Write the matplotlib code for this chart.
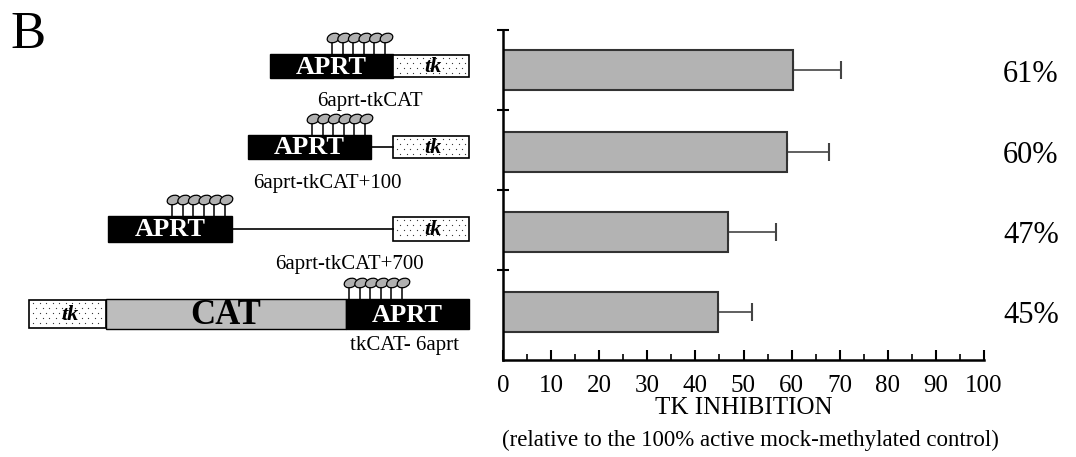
import numpy as np
import matplotlib.pyplot as plt
from matplotlib.patches import Rectangle, Ellipse

plt.rcParams['font.family'] = ['Liberation Serif', 'DejaVu Serif']

# values
constructs = ['6aprt-tkCAT', '6aprt-tkCAT+100', '6aprt-tkCAT+700', 'tkCAT- 6aprt']
inhibition = [60.3, 59.0, 46.7, 44.7]
err_upper = [10.0, 8.8, 10.0, 7.1]
pct_labels = ['61%', '60%', '47%', '45%']
xticks = list(range(0, 101, 10))

# layout of the schematic constructs (pixel coords)
segments = [
    [('aprt', 270, 393), ('tk', 393, 469)],
    [('aprt', 248, 371), ('line', 371, 393), ('tk', 393, 469)],
    [('aprt', 108, 232), ('line', 232, 393), ('tk', 393, 469)],
    [('tk', 29, 106), ('cat', 106, 346), ('aprt', 346, 469)],
]
box_rows = [(54, 78), (135, 159), (216, 242), (299, 329)]
lolli_start = [332, 312, 172, 349]
label_pos = [(370, 106), (327, 188), (349, 269), (404, 350)]
bar_pos = [3.62, 2.6, 1.6, 0.6]

fig = plt.figure(figsize=(10.76, 4.57), dpi=100)

# schematic drawing layer
sk = fig.add_axes([0, 0, 1, 1])
sk.set_xlim(0, 1076)
sk.set_ylim(457, 0)
sk.axis('off')

sk.text(10, 48, 'B', fontsize=38, va='baseline', ha='left')

for i, segs in enumerate(segments):
    top, bot = box_rows[i]
    mid = (top + bot) / 2
    for kind, x0, x1 in segs:
        if kind == 'aprt':
            sk.add_patch(Rectangle((x0, top), x1 - x0, bot - top, fc='black', ec='black', lw=1))
            sk.text((x0 + x1) / 2, mid + 1, 'APRT', color='white', fontsize=19,
                    fontweight='bold', ha='center', va='center')
        elif kind == 'tk':
            sk.add_patch(Rectangle((x0, top + 1), x1 - x0, bot - top - 2, fc='white',
                                   ec='black', lw=1.2))
            # stipple texture
            ys = np.arange(top + 4, bot - 2, 5)
            for r, yy in enumerate(ys):
                xs = np.arange(x0 + 4 + (r % 2) * 3, x1 - 2, 6.5)
                sk.scatter(xs, np.full(len(xs), yy), s=0.8, color='#333333', lw=0)
            sk.text((x0 + x1) / 2 + 2, mid + 1, 'tk', color='black', fontsize=16,
                    fontweight='bold', fontstyle='italic', ha='center', va='center')
        elif kind == 'cat':
            sk.add_patch(Rectangle((x0, top), x1 - x0, bot - top, fc='#bdbdbd', ec='black', lw=1))
            sk.text((x0 + x1) / 2, mid + 1, 'CAT', color='black', fontsize=25,
                    fontweight='bold', ha='center', va='center')
        else:
            sk.plot([x0, x1], [mid, mid], color='black', lw=1.2)
    # methylation lollipops
    for k in range(6):
        sx = lolli_start[i] + k * 10.6
        sk.plot([sx, sx], [top - 11, top], color='black', lw=1.1)
        sk.add_patch(Ellipse((sx + 1.5, top - 16), 13, 9, angle=-20, fc='#b0b0b0',
                             ec='black', lw=0.9))
    lx, ly = label_pos[i]
    sk.text(lx, ly, constructs[i], fontsize=15, ha='center', va='baseline')

sk.text(750, 446, '(relative to the 100% active mock-methylated control)',
        fontsize=16.5, ha='center', va='baseline')

# bar chart
ax = fig.add_axes([503 / 1076, 97 / 457, 481 / 1076, 330 / 457])
ax.barh(bar_pos, inhibition, height=0.5, color='#b3b3b3', edgecolor='#333333', lw=1.5,
        zorder=2)
ax.errorbar(inhibition, bar_pos, xerr=[np.zeros(4), err_upper], fmt='none',
            ecolor='#444444', elinewidth=1.2, capsize=6.5, capthick=1.5, zorder=1)

ax.set_xlim(0, 100)
ax.set_ylim(0, 4.12)
ax.set_xticks(xticks)
ax.set_xticks(range(5, 100, 10), minor=True)
ax.set_yticks([1.12, 2.12, 3.12, 4.12])
ax.set_yticklabels([])
ax.tick_params(axis='x', direction='in', length=7, width=1.5, labelsize=18, pad=11)
ax.tick_params(axis='x', which='minor', direction='in', length=4, width=1.2)
ax.tick_params(axis='y', direction='inout', length=9, width=1.5)
for s in ['top', 'right']:
    ax.spines[s].set_visible(False)
for s in ['left', 'bottom']:
    ax.spines[s].set_linewidth(1.8)
ax.set_xlabel('TK INHIBITION', fontsize=18, labelpad=0)

for y, lab in zip(bar_pos, pct_labels):
    ax.text(1.04, y - 0.05, lab, fontsize=22, ha='left', va='center',
            transform=ax.get_yaxis_transform())

fig.savefig('out.png', dpi=100)
